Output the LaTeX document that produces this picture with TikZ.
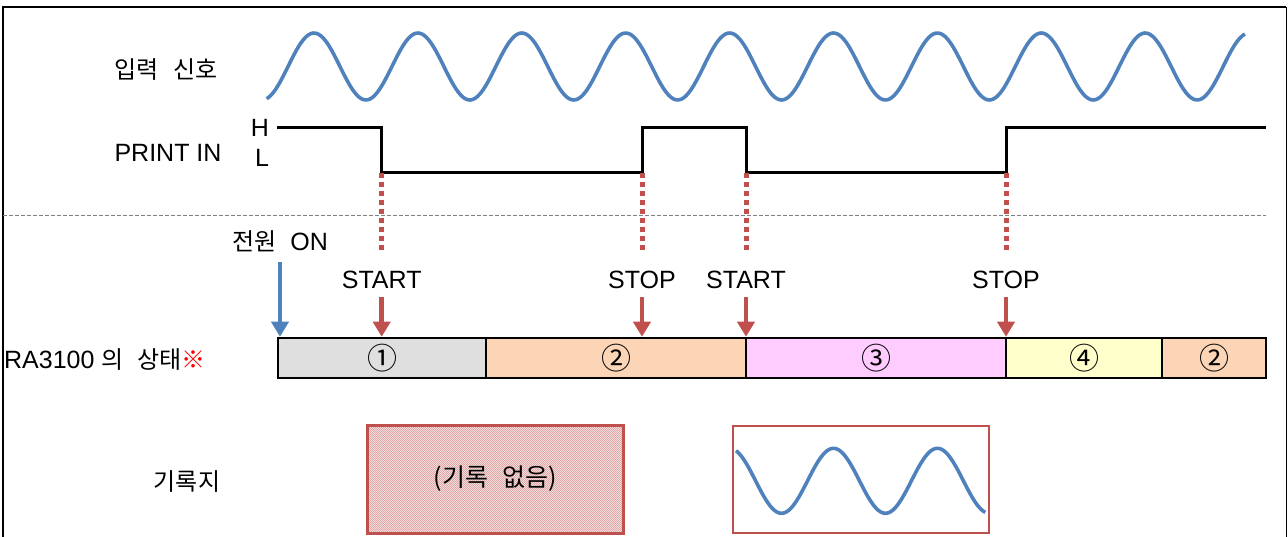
\documentclass[tikz,border=0pt]{standalone}
\usepackage{fontspec}
\setmainfont{Liberation Sans}
\newfontfamily\krfont{Noto Sans CJK KR}
\usetikzlibrary{arrows.meta, patterns}
\definecolor{SigBlue}{HTML}{4F81BD}
\definecolor{MarkRed}{HTML}{C0504D}
\definecolor{CellGray}{HTML}{DFDFDF}
\definecolor{CellOrange}{HTML}{FBD5B5}
\definecolor{CellPink}{HTML}{FFCCFF}
\definecolor{CellYellow}{HTML}{FFFFCC}
% fine checker for the empty record
\pgfdeclarepatternformonly{finechecker}{\pgfqpoint{-.05pt}{-.05pt}}{\pgfqpoint{2.05pt}{2.05pt}}{\pgfqpoint{2pt}{2pt}}{
    \pgfpathrectangle{\pgfqpoint{0pt}{0pt}}{\pgfqpoint{1.05pt}{1.05pt}}
    \pgfpathrectangle{\pgfqpoint{1pt}{1pt}}{\pgfqpoint{1.05pt}{1.05pt}}
    \pgfusepath{fill}}

\begin{document}
\begin{tikzpicture}[
    x=1pt, y=-1pt,
    font=\fontsize{25}{30}\selectfont,
    kr/.style={font=\krfont\fontsize{24}{28}\selectfont, inner sep=0pt},
    wave/.style={SigBlue, line width=3.6pt},
    level/.style={line width=3pt},
    trig/.style={MarkRed, line width=5pt, dash pattern=on 5pt off 4pt},
    flow/.style={-{Triangle[length=15pt, width=17pt]}, line width=4.5pt},
    cell/.style={draw, line width=2.5pt, minimum height=40pt, inner sep=0pt,
        font=\krfont\fontsize{30}{32}\selectfont},
    recbox/.style={draw=MarkRed, minimum width=256pt, inner sep=0pt},
]
\useasboundingbox (0,0) rectangle (1288,537);

% frame
\draw[line width=2.3pt] (3,537) -- (3,7) -- (1286,7);
\draw[line width=1pt] (1286,7) -- (1286,537);

% input signal
\node[kr] (inlbl) at (166,70) {입력\hspace{15pt}신호};
\draw[wave] plot[domain=-163.9:3225.6, samples=400, smooth]
    ({314+\x/360*103.9}, {66.5-33.5*cos(\x)});

% PRINT IN
\node[inner sep=0pt] (prlbl) at (168,153) {PRINT IN};
\node[inner sep=0pt] (hi) at (260,128) {H};
\node[inner sep=0pt] (lo) at (262,158) {L};
\draw[level] (277,128) -| (381.7,173) -| (642,128) -| (746,173) -| (1006,128) -- (1266,128);

% separator
\draw[gray, line width=1.2pt, dash pattern=on 4pt off 2pt] (3,215.5) -- (1266,215.5);

% RA3100 state
\node[anchor=west, inner sep=0pt] (stlbl) at (4,360)
    {RA3100\hspace{7pt}{\krfont\fontsize{24}{28}\selectfont 의\hspace{14pt}상태{\color{red}※}}};
\foreach \n/\cx/\w/\col/\d in {1/382/208/CellGray/①, 2/616/260/CellOrange/②,
        3/876/260/CellPink/③, 4/1084/156/CellYellow/④, 5/1214/104/CellOrange/②}
    \node[cell, fill=\col, minimum width=\w pt] (s\n) at (\cx,358) {\d};

% power on
\node[inner sep=0pt] (pwlbl) at (280,241) {{\krfont\fontsize{24}{28}\selectfont 전원}\hspace{14pt}ON};
\coordinate (pw) at (280,262);
\draw[flow, SigBlue] (pw) -- (pw |- s1.north);

% start / stop
\foreach \i/\x/\txt in {1/381.7/START, 2/642/STOP, 3/746/START, 4/1006/STOP}{
    \coordinate (e\i) at (\x,173);
    \draw[trig] (e\i) -- ++(0,80);
    \node[inner sep=0pt] (ev\i) at (\x,280) {\txt};
    \coordinate (t\i) at (\x,297);
    \draw[flow, MarkRed] (t\i) -- (t\i |- s1.north);
}

% recording paper
\node[kr] (paper) at (187,482) {기록지};
\node[recbox, line width=3pt, minimum height=108pt,
      preaction={fill=MarkRed!10},
      preaction={pattern=finechecker, pattern color=MarkRed!50},
      font=\krfont\fontsize{25}{28}\selectfont] (rec1) at (495,479)
    {(기록\hspace{14pt}없음)};
\node[recbox, line width=1.2pt, minimum height=107pt] (rec2) at (861,479.5) {};
\draw[wave] plot[domain=1462.2:2325.9, samples=120, smooth]
    ({314+\x/360*103.9}, {480.8-32.5*cos(\x)});

\end{tikzpicture}
\end{document}
